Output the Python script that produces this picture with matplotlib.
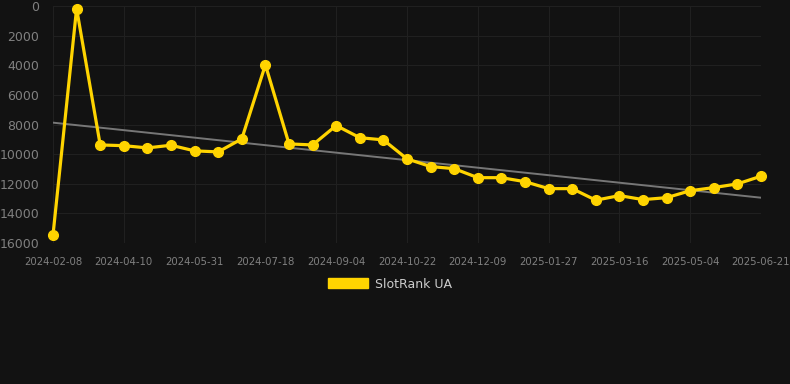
import numpy as np
import matplotlib
matplotlib.use('Agg')
import matplotlib.pyplot as plt
from matplotlib.patches import Patch

# SlotRank UA positions (lower is better, axis inverted)
ranks = [15460, 170, 9380, 9430, 9580, 9400, 9780, 9850, 8970, 3970,
         9310, 9380, 8070, 8890, 9040, 10320, 10840, 10980, 11590, 11590,
         11860, 12330, 12330, 13110, 12800, 13070, 12940, 12470, 12260, 12010,
         11490]
tick_labels = ['2024-02-08', '2024-04-10', '2024-05-31', '2024-07-18',
               '2024-09-04', '2024-10-22', '2024-12-09', '2025-01-27',
               '2025-03-16', '2025-05-04', '2025-06-21']
series_name = 'SlotRank UA'

bg = '#121212'
gold = '#FFD400'

fig = plt.figure(figsize=(7.9, 3.84), dpi=100, facecolor=bg)
ax = fig.add_axes([53 / 790, 1 - 243 / 384, (761 - 53) / 790, 237 / 384])
ax.set_facecolor(bg)

x = np.arange(len(ranks))
y = np.array(ranks, dtype=float)

# linear trend over the series
k, b = np.polyfit(x, y, 1)
ax.plot(x, k * x + b, color='#777777', lw=1.4, zorder=2)

ax.plot(x, y, color=gold, lw=2.3, marker='o', ms=7, zorder=3, clip_on=False)

ax.set_xlim(0, len(ranks) - 1)
ax.set_ylim(16000, 0)
ax.set_yticks(np.arange(0, 16001, 2000))
ax.set_xticks(x[::3])
ax.set_xticklabels(tick_labels)

ax.grid(True, color='#202020', lw=0.8)
ax.set_axisbelow(True)
for s in ax.spines.values():
    s.set_visible(False)
ax.tick_params(axis='y', colors='#808080', labelsize=9, length=0, pad=10)
ax.tick_params(axis='x', colors='#808080', labelsize=7.3, length=0, pad=10)

handle = Patch(facecolor=gold, edgecolor=gold)
fig.legend([handle], [series_name], loc='center', bbox_to_anchor=(390 / 790, 1 - 284 / 384),
           frameon=False, handlelength=3.2, handleheight=0.9, handletextpad=0.5,
           labelcolor='#cccccc', fontsize=9)

fig.savefig('out.png', dpi=100, facecolor=bg)
